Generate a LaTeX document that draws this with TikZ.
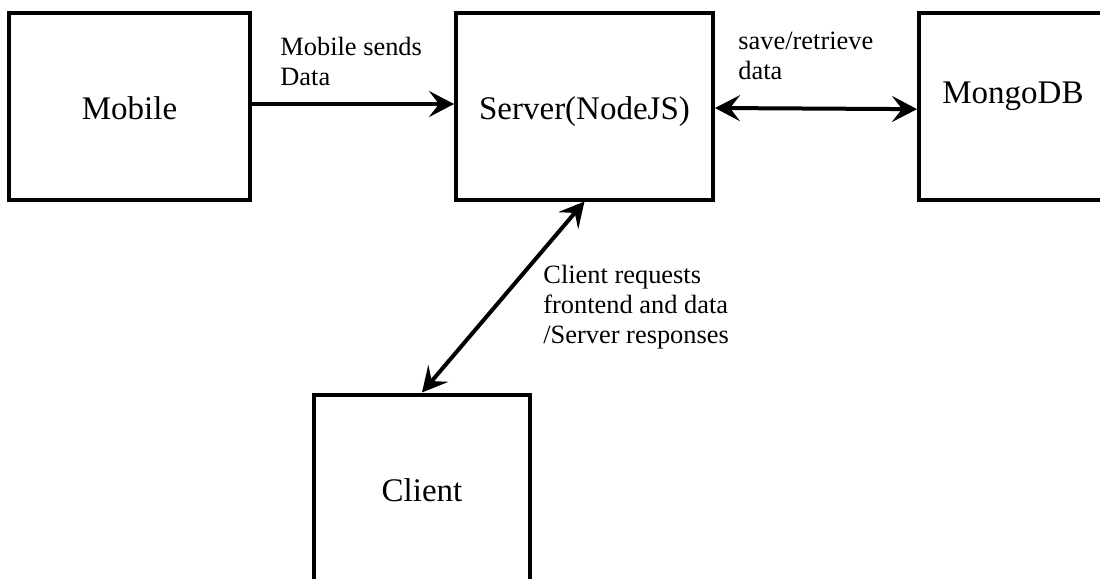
\documentclass[tikz,border=0pt]{standalone}
\usepackage{fontspec}
\setmainfont{Liberation Serif}
\usetikzlibrary{arrows.meta}

\tikzset{
  block/.style={draw, rectangle, line width=2pt, inner sep=0pt, text height=13pt, text depth=0pt,
    font=\fontsize{16.5}{19}\selectfont},
  oneway/.style={line width=2pt, -{Stealth[length=12.5pt, width=13pt, inset=5pt]}},
  twoway/.style={line width=2pt, {Stealth[length=12.5pt, width=13pt, inset=5pt]}-{Stealth[length=12.5pt, width=13pt, inset=5pt]}},
  note/.style={anchor=north west, align=left, inner sep=0pt, font=\fontsize{13.2}{15}\selectfont}
}

\begin{document}
\begin{tikzpicture}[x=0.5pt, y=-0.5pt]
      \useasboundingbox (0,0) rectangle (1100,579);
      \clip (0,0) rectangle (1100,579);
      \node[name=mobile, block, minimum width=120.5pt, minimum height=93.5pt] at (129.5,106) {Mobile};
      \node[name=server, block, minimum width=128.5pt, minimum height=93.5pt] at (584.5,106) {Server(NodeJS)};
      \node[name=mongo, block, minimum width=94pt, minimum height=93.5pt] at (1013,106.75) {};
      \node[name=mongotext, anchor=base, font=\fontsize{16.5}{19}\selectfont] at (1013,103) {MongoDB};
      \node[name=client, block, minimum width=108pt, minimum height=93.75pt] at (422,488.25) {Client};
      \draw[oneway] ([yshift=1pt]mobile.east) -- ([yshift=1pt]server.west);
      \draw[twoway] ([yshift=-1pt]server.east) -- ([yshift=-1.2pt]mongo.west);
      \draw[twoway] (server.south) -- (client.north);
      \node[name=sendlbl, note] at (280,37) {Mobile sends\\Data};
      \node[name=storelbl, note] at (738,32) {save/retrieve\\data};
      \node[name=reqlbl, note] at (543,265) {Client requests\\frontend and data\\/Server responses};
   \end{tikzpicture}
\end{document}
